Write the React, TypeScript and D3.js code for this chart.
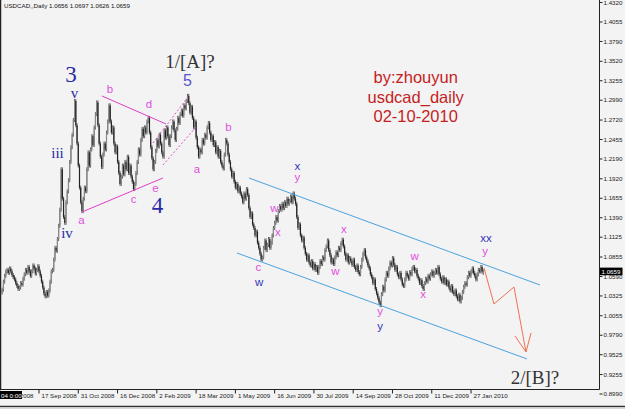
import React from 'react';
import * as d3 from 'd3';

// Daily closes USDCAD (bar index 0 = early Aug 2008 ... 392 = 10 Feb 2010)
const closes: number[] = [
  1.041,1.052,1.060,1.066,1.068,1.064,1.070,1.066,1.061,1.058,1.055,
  1.050,1.046,1.042,1.044,1.050,1.048,
  1.056,1.062,1.068,1.064,1.072,1.066,1.060,1.066,1.074,1.070,1.063,1.068,1.073,1.066,1.060,
  1.052,1.044,1.036,1.032,1.038,1.033,1.040,
  1.052,1.066,1.068,1.082,1.098,1.094,1.110,1.128,
  1.150,1.205,1.165,1.140,1.132,1.160,1.175,1.190,1.215,1.235,1.252,1.272,1.298,1.265,1.240,1.210,1.180,1.160,1.148,
  1.165,1.180,1.175,1.205,1.228,1.210,1.232,1.250,1.238,1.262,1.280,1.296,
  1.265,1.240,1.222,1.208,1.225,
  1.240,1.232,1.255,1.270,1.292,
  1.270,1.255,1.262,1.240,1.228,1.236,1.215,1.200,1.185,
  1.195,1.210,1.198,1.215,1.205,1.222,1.200,1.210,
  1.195,1.188,1.178,1.185,1.200,
  1.215,1.232,1.225,1.245,1.260,1.250,1.262,1.255,1.270,1.275,
  1.255,1.235,1.220,1.205,1.215,1.230,
  1.245,1.236,1.252,1.240,1.228,1.222,1.258,1.248,1.262,1.250,1.238,1.250,
  1.262,1.270,1.258,1.245,1.260,1.275,1.268,1.280,
  1.285,1.278,1.292,1.288,1.298,1.305,1.295,
  1.282,1.290,1.275,1.262,1.270,1.248,1.235,1.222,
  1.232,1.228,1.245,1.240,1.252,1.248,1.262,1.268,
  1.255,1.245,1.250,1.238,1.242,1.228,1.235,1.222,1.230,1.215,1.210,1.206,
  1.225,1.245,1.240,
  1.225,1.215,1.205,1.195,1.200,1.188,1.180,1.185,1.175,1.180,1.172,
  1.168,1.160,1.172,1.165,1.178,1.170,
  1.152,1.140,1.145,1.130,1.125,1.115,1.120,1.105,1.098,1.090,1.082,1.085,
  1.098,1.108,1.095,1.102,1.110,1.098,1.105,1.115,
  1.125,1.132,1.140,1.135,1.148,1.155,1.150,1.158,1.152,1.160,1.155,1.165,1.158,1.162,1.168,1.160,1.172,
  1.165,1.158,1.140,1.125,1.130,1.115,1.108,1.112,1.098,1.090,1.082,1.088,1.078,1.074,1.080,1.070,1.076,1.068,1.072,1.064,
  1.072,1.080,1.076,1.085,1.082,1.095,1.100,1.108,
  1.095,1.088,1.078,1.082,1.076,1.085,
  1.092,1.088,1.098,1.095,1.104,1.109,1.100,
  1.090,1.082,1.088,1.078,1.084,1.080,1.075,1.082,1.072,1.068,1.074,1.065,1.062,
  1.072,1.082,1.090,1.095,
  1.085,1.080,1.074,1.070,1.062,1.058,1.050,1.055,1.042,1.036,1.030,1.024,1.020,
  1.035,1.045,1.040,1.055,1.064,1.060,1.070,1.078,1.074,1.084,
  1.075,1.068,1.072,1.062,1.058,1.064,1.055,1.048,1.046,
  1.055,1.064,1.060,1.056,1.065,1.062,1.070,1.072,
  1.066,1.068,1.060,1.056,1.050,1.054,1.046,1.042,
  1.050,1.056,1.052,1.060,1.056,1.062,1.066,1.060,1.064,1.068,1.064,1.072,
  1.062,1.056,1.052,1.058,1.050,1.055,1.048,1.052,1.044,1.040,1.046,1.038,1.035,1.040,1.032,1.028,1.034,1.025,
  1.030,1.038,1.045,1.050,1.048,1.058,1.064,1.060,1.066,1.070,1.064,1.060,1.055,1.062,1.068,1.066,1.072,1.0656,1.0659,
];

const priceTicks: string[] = [
  '1.4320','1.4055','1.3790','1.3520','1.3255','1.2990','1.2720','1.2455','1.2190','1.1920','1.1655',
  '1.1390','1.1125','1.0855','1.0590','1.0325','1.0055','0.9790','0.9525','0.9255','0.8990',
];

const dateLabels: string[] = [
  '4 Aug 2008','17 Sep 2008','31 Oct 2008','16 Dec 2008','2 Feb 2009','18 Mar 2009','1 May 2009',
  '16 Jun 2009','30 Jul 2009','14 Sep 2009','28 Oct 2009','11 Dec 2009','27 Jan 2010',
];
const dateIdx: number[] = [-2, 30, 62, 94, 126, 158, 190, 222, 254, 286, 318, 350, 382];

const headerText = 'USDCAD,,Daily  1.0656 1.0697 1.0626 1.0659';
const lastPrice = 1.0659;

// trend lines: [idx1, price1, idx2, price2]
const triangleLines: number[][] = [[81.3, 1.3048, 133.5, 1.2666], [65.0, 1.1468, 131.0, 1.1931]];
const wedgeLines: number[][] = [[122.9, 1.2408, 151.4, 1.3034], [131.0, 1.2108, 158.7, 1.2639]];
const channelLines: number[][] = [[201.1, 1.1931, 438.2, 1.0474], [191.3, 1.0910, 427.6, 0.9467]];
const projection: number[][] = [[392.6, 1.0706], [400.7, 1.0216], [417.0, 1.0447], [426.8, 0.9562]];
const arrowHead: number[][] = [[417.8, 0.9780], [426.8, 0.9562], [430.9, 0.9821]];

// wave labels: [text, idx, price, kind]
const waveLabels: [string, number, number, string][] = [
  ['3', 56.1, 1.3240, 'big'],
  ['v', 58.9, 1.3020, 'roman'],
  ['iii', 45.1, 1.2203, 'roman'],
  ['iv', 52.8, 1.1114, 'roman'],
  ['4', 126.6, 1.1455, 'big'],
  ['5', 151.0, 1.3184, 'five'],
  ['1/[A]?', 153.0, 1.3429, 'title'],
  ['2/[B]?', 434.1, 0.9130, 'title'],
  ['a', 64.6, 1.1305, 'pink'],
  ['b', 87.9, 1.3088, 'pink'],
  ['c', 107.0, 1.1591, 'pink'],
  ['d', 119.6, 1.2884, 'pink'],
  ['e', 124.9, 1.1741, 'pink'],
  ['a', 158.7, 1.2000, 'pink'],
  ['b', 184.4, 1.2571, 'pink'],
  ['x', 240.6, 1.2040, 'blue'],
  ['y', 240.6, 1.1890, 'pink'],
  ['w', 221.9, 1.1468, 'pink'],
  ['x', 224.7, 1.1142, 'pink'],
  ['c', 208.8, 1.0665, 'pink'],
  ['w', 209.3, 1.0461, 'blue'],
  ['x', 278.5, 1.1182, 'pink'],
  ['w', 271.6, 1.0611, 'pink'],
  ['w', 336.0, 1.0815, 'pink'],
  ['x', 342.9, 1.0297, 'pink'],
  ['y', 307.9, 1.0066, 'pink'],
  ['y', 307.9, 0.9862, 'blue'],
  ['xx', 394.2, 1.1060, 'blue'],
  ['y', 393.4, 1.0883, 'pink'],
];

const noteLines: string[] = ['by:zhouyun', 'usdcad_daily', '02-10-2010'];
const notePrices: number[] = [1.3225, 1.2953, 1.2694];
const noteIdx = 336.9;

const W = 625, H = 409;
const plotRight = 599.5, plotBottom = 389.5;

const labelStyle: Record<string, any> = {
  big: { fontFamily: 'Liberation Serif, serif', fontSize: 23, fill: '#2a2aa8' },
  roman: { fontFamily: 'Liberation Serif, serif', fontSize: 15, fill: '#2a2aa8' },
  five: { fontFamily: 'Liberation Sans, sans-serif', fontSize: 16, fill: '#5555cc' },
  title: { fontFamily: 'Liberation Serif, serif', fontSize: 19, fill: '#333333' },
  pink: { fontFamily: 'Liberation Sans, sans-serif', fontSize: 11.5, fill: '#e050e0' },
  blue: { fontFamily: 'Liberation Sans, sans-serif', fontSize: 11.5, fill: '#3333b8' },
};

export default function App() {
  const x = d3.scaleLinear().domain([0, 392]).range([2.18, 483.3]);
  const y = d3.scaleLinear().domain([0.899, 1.4055]).range([394, 22]);
  const line = d3.line<number[]>().x(d => x(d[0])).y(d => y(d[1]));
  const axisFont = { fontFamily: 'Liberation Sans, Arial, sans-serif', fontSize: 6.2 };

  const candles = closes.map((c, i) => {
    const o = i === 0 ? c - 0.004 : closes[i - 1];
    const y1 = y(Math.max(o, c));
    const y2 = y(Math.min(o, c));
    const h = Math.max(y2 - y1, 1.5);
    return { i, up: c >= o, y1, h };
  });

  return (
    <svg width={W} height={H} style={{ position: 'absolute', left: 0, top: 0, background: '#f3f3f3' }}>
      <defs>
        <clipPath id="plot"><rect x={1} y={0} width={plotRight - 1} height={plotBottom} /></clipPath>
      </defs>
      <rect x={0} y={0} width={W} height={H} fill="#f3f3f3" />
      <g clipPath="url(#plot)">
        {candles.map(d => (
          <g key={d.i}>
            <line x1={x(d.i)} x2={x(d.i)} y1={d.y1 - 2} y2={d.y1 + d.h + 2} stroke="#3a3a3a" strokeWidth={0.8} />
            <rect x={x(d.i) - 0.6} y={d.y1} width={1.2} height={d.h} fill={d.up ? '#8a8a8a' : '#222222'} />
          </g>
        ))}
        {triangleLines.map((l, k) => (
          <path key={'t' + k} d={line([[l[0], l[1]], [l[2], l[3]]])!} stroke="#e040c8" strokeWidth={1} fill="none" />
        ))}
        {wedgeLines.map((l, k) => (
          <path key={'w' + k} d={line([[l[0], l[1]], [l[2], l[3]]])!} stroke="#e050d0" strokeWidth={1} strokeDasharray="2,2" fill="none" />
        ))}
        {channelLines.map((l, k) => (
          <path key={'c' + k} d={line([[l[0], l[1]], [l[2], l[3]]])!} stroke="#4aa3df" strokeWidth={1} fill="none" />
        ))}
        <path d={line(projection)!} stroke="#f07050" strokeWidth={1} fill="none" />
        <path d={line(arrowHead)!} stroke="#f07050" strokeWidth={1} fill="none" />
        {waveLabels.map(([t, i, p, k], n) => (
          <text key={'l' + n} x={x(i)} y={y(p)} textAnchor="middle" {...labelStyle[k]}>{t}</text>
        ))}
        {noteLines.map((t, n) => (
          <text key={'n' + n} x={x(noteIdx)} y={y(notePrices[n])} textAnchor="middle"
            fontFamily="Liberation Sans, Arial, sans-serif" fontSize={16.5} fill="#c41e1e">{t}</text>
        ))}
      </g>
      <text x={4} y={8} {...axisFont} fill="#111">{headerText}</text>
      {/* frame */}
      <line x1={0.5} x2={0.5} y1={0} y2={plotBottom} stroke="#222" strokeWidth={1.5} />
      <line x1={plotRight} x2={plotRight} y1={0} y2={plotBottom} stroke="#222" strokeWidth={1} />
      <line x1={0} x2={plotRight} y1={plotBottom} y2={plotBottom} stroke="#222" strokeWidth={1} />
      {/* price axis */}
      {priceTicks.map(t => {
        const yy = y(+t);
        return (
          <g key={t}>
            <line x1={plotRight} x2={plotRight + 3} y1={yy} y2={yy} stroke="#222" />
            <text x={603.5} y={yy + 2.2} {...axisFont} fill="#222">{t}</text>
          </g>
        );
      })}
      <rect x={600} y={y(lastPrice) - 3.8} width={22.5} height={7.6} fill="#000" />
      <text x={601.5} y={y(lastPrice) + 2.2} {...axisFont} fill="#fff">{lastPrice.toFixed(4)}</text>
      {/* time axis */}
      {dateLabels.map((t, k) => {
        const xx = x(dateIdx[k]);
        return (
          <g key={t}>
            <line x1={xx} x2={xx} y1={plotBottom} y2={plotBottom + 4} stroke="#222" />
            <text x={xx + 2.5} y={398} {...axisFont} fill="#222">{t}</text>
          </g>
        );
      })}
      <rect x={0} y={391} width={22} height={8} fill="#000" />
      <text x={1} y={397.6} {...axisFont} fill="#fff">04 0:00</text>
      <line x1={0} x2={W} y1={406.5} y2={406.5} stroke="#333" strokeWidth={1.5} />
      <rect x={0} y={407.5} width={W} height={2} fill="#d8d8d8" />
    </svg>
  );
}
